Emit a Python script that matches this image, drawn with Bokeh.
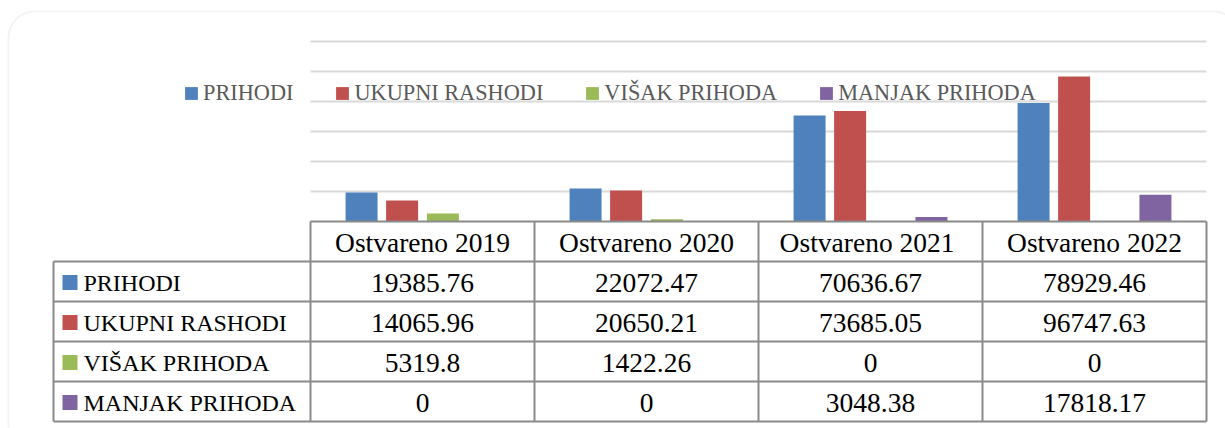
from bokeh.plotting import figure
from bokeh.models import Range1d, ColumnDataSource, Legend, LegendItem, BoxAnnotation
from bokeh.transform import dodge
from bokeh.core.properties import value
from bokeh.embed import file_html
from bokeh.resources import INLINE

# ---- data ----
categories = ["Ostvareno 2019", "Ostvareno 2020", "Ostvareno  2021", "Ostvareno 2022"]
series_names = ["PRIHODI", "UKUPNI RASHODI", "VIŠAK PRIHODA", "MANJAK PRIHODA"]
prihodi = [19385.76, 22072.47, 70636.67, 78929.46]
ukupni_rashodi = [14065.96, 20650.21, 73685.05, 96747.63]
visak_prihoda = [5319.8, 1422.26, 0, 0]
manjak_prihoda = [0, 0, 3048.38, 17818.17]
y_ticks = [20000, 40000, 60000, 80000, 100000, 120000]

series_values = [prihodi, ukupni_rashodi, visak_prihoda, manjak_prihoda]
colors = ["#4f81bd", "#c0504d", "#9bbb59", "#8064a2"]

W, H = 1225, 428
# geometry (pixels)
BASE_PX = 221          # baseline / table top
LEFT_PX = 310          # left of first category column
COL_PX = 224           # column width
K = 20000 / 30.0       # data units per pixel vertically


def xd(px):
    return (px - LEFT_PX) / COL_PX


def yd(py):
    return (BASE_PX - py) * K


p = figure(width=W, height=H, output_backend="svg", toolbar_location=None,
           x_range=Range1d(xd(0), xd(W)), y_range=Range1d(yd(H), yd(0)),
           x_axis_location=None, y_axis_location=None, min_border=0,
           tools="")
p.grid.visible = False
p.outline_line_color = None
p.background_fill_color = "white"
p.border_fill_color = "white"

# rounded chart border
p.add_layout(BoxAnnotation(left=xd(8), right=xd(1239), top=yd(11), bottom=yd(450),
                           fill_color=None, line_color="#d9d9d9", line_width=2,
                           border_radius=26, level="underlay"))

n = len(categories)
# gridlines
p.segment(x0=[0] * len(y_ticks), x1=[n] * len(y_ticks), y0=y_ticks, y1=y_ticks,
          line_color="#d9d9d9", line_width=2)

# bars
centers = [i + 0.5 for i in range(n)]
data = {"x": centers}
for name, vals in zip(series_names, series_values):
    data[name] = vals
src = ColumnDataSource(data)
offsets = [-0.272, -0.091, 0.091, 0.272]
bar_w = 32 / COL_PX
items = []
for name, col, off in zip(series_names, colors, offsets):
    r = p.vbar(x=dodge("x", off), top=name, bottom=0, width=bar_w, source=src,
               fill_color=col, line_color=None)
    # legend swatch (zero-size square area glyph, only its legend symbol shows)
    sw = p.quad(left=[0], right=[0], top=[0], bottom=[0], fill_color=col, line_color=None)
    items.append(LegendItem(label=name, renderers=[sw]))

legend = Legend(items=items, orientation="horizontal", location=(183, H - 106),
                glyph_width=16, glyph_height=16, label_height=16,
                label_standoff=4, spacing=41, padding=0, margin=0,
                border_line_color=None, background_fill_alpha=0,
                label_text_font="Liberation Serif", label_text_font_size="22.3px",
                label_text_color="#595959")
p.add_layout(legend, "center")

# ---- data table ----
ROW_PX = 40
line_col = "#8a8a8a"
row_tops = [BASE_PX + ROW_PX * (i + 1) for i in range(len(series_names) + 1)]
# horizontal lines
p.segment(x0=[0], x1=[n], y0=[yd(BASE_PX)], y1=[yd(BASE_PX)], line_color=line_col, line_width=2)
p.segment(x0=[xd(53)] * len(row_tops), x1=[n] * len(row_tops),
          y0=[yd(t) for t in row_tops], y1=[yd(t) for t in row_tops],
          line_color=line_col, line_width=2)
# vertical lines
p.segment(x0=list(range(n + 1)), x1=list(range(n + 1)),
          y0=[yd(BASE_PX)] * (n + 1), y1=[yd(row_tops[-1])] * (n + 1),
          line_color=line_col, line_width=2)
p.segment(x0=[xd(53)], x1=[xd(53)], y0=[yd(row_tops[0])], y1=[yd(row_tops[-1])],
          line_color=line_col, line_width=2)

# header
p.text(x=centers, y=[yd(BASE_PX + ROW_PX / 2 + 1)] * n, text=categories,
       text_align="center", text_baseline="middle",
       text_font=value("Liberation Serif"), text_font_size="27.5px", text_color="black")


def fmt(v):
    s = "%.2f" % v
    return s.rstrip("0").rstrip(".") if "." in s else s


for j, (name, vals, col) in enumerate(zip(series_names, series_values, colors)):
    cy = yd(row_tops[j] + ROW_PX / 2 + 1)
    p.scatter(x=[xd(69.5)], y=[cy], marker="square", size=15, fill_color=col, line_color=None)
    p.text(x=[xd(83)], y=[cy], text=[name], text_align="left", text_baseline="middle",
           text_font=value("Liberation Serif"), text_font_size="24px", text_color="black")
    p.text(x=centers, y=[cy] * n, text=[fmt(v) for v in vals],
           text_align="center", text_baseline="middle",
           text_font=value("Liberation Serif"), text_font_size="27.5px", text_color="black")

open("out.html", "w").write(file_html(p, INLINE))
